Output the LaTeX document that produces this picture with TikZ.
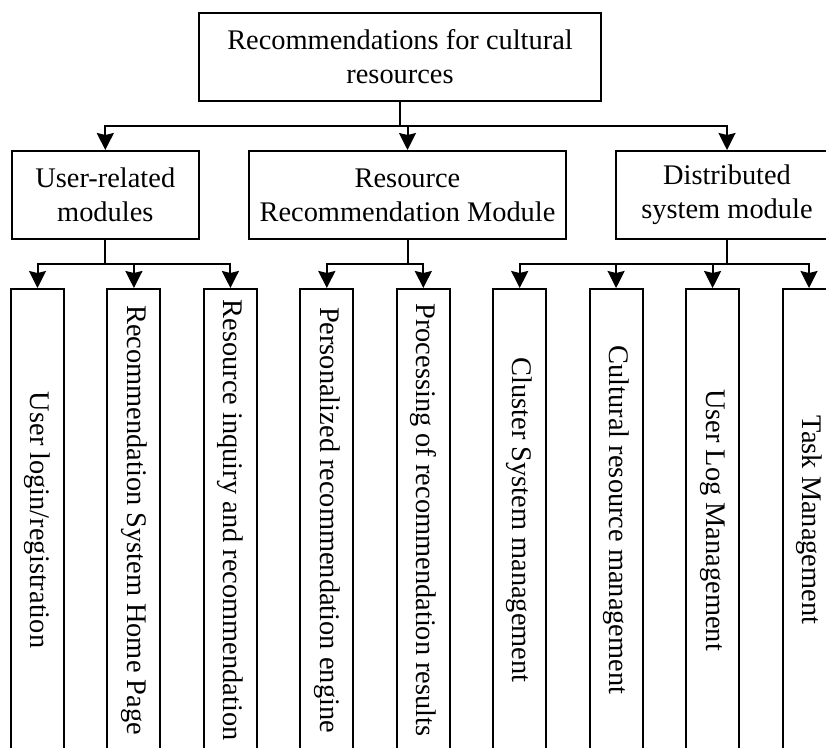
\documentclass[tikz,border=0pt]{standalone}
\usepackage{fontspec}
\setmainfont{Liberation Serif}
\usetikzlibrary{arrows.meta}

\begin{document}
\begin{tikzpicture}[x=1pt,y=-1pt,
	box/.style={draw,line width=2pt,inner sep=0pt,align=center,font=\fontsize{28.4}{34}\selectfont},
	leaf/.style={box,minimum width=53pt,minimum height=462pt},
	pfeil/.style={line width=2pt,-{Stealth[length=17pt,width=17pt,inset=2pt]}}]
	\clip (0,0) rectangle (826,747);
	% oberste Ebene
	\node [box,minimum width=401.6pt,minimum height=88pt] (root) at (400,56.7) {Recommendations for cultural\\resources};
	% Module
	\node [box,minimum width=187.6pt,minimum height=88pt] (m1) at (105.3,195) {User-related\\modules};
	\node [box,minimum width=317pt,minimum height=88pt] (m2) at (407.5,195) {Resource\\Recommendation Module};
	\node [box,minimum width=222pt,minimum height=88pt] (m3) at (727,195) {Distributed\\system module};
	% Funktionen
	\node [leaf] (l1) at (37.5,520) {\rotatebox{-90}{User login/registration}};
	\node [leaf] (l2) at (133.9,520) {\rotatebox{-90}{Recommendation System Home Page}};
	\node [leaf] (l3) at (230.4,520) {\rotatebox{-90}{Resource inquiry and recommendation}};
	\node [leaf] (l4) at (326.8,520) {\rotatebox{-90}{Personalized recommendation engine}};
	\node [leaf] (l5) at (423.3,520) {\rotatebox{-90}{Processing of recommendation results}};
	\node [leaf] (l6) at (519.7,520) {\rotatebox{-90}{Cluster System management}};
	\node [leaf] (l7) at (616.1,520) {\rotatebox{-90}{Cultural resource management}};
	\node [leaf] (l8) at (712.6,520) {\rotatebox{-90}{User Log Management}};
	\node [leaf] (l9) at (809,520) {\rotatebox{-90}{Task Management}};
	% Verbindungen
	\coordinate (bus0) at (0,126);
	\coordinate (bus1) at (0,264);
	\foreach \m in {m1,m2,m3}
		\draw [pfeil] (root.south) -- (root.south |- bus0) -| (\m.north);
	\foreach \i in {1,2,3}
		\draw [pfeil] (m1.south) -- (m1.south |- bus1) -| (l\i.north);
	\foreach \i in {4,5}
		\draw [pfeil] (m2.south) -- (m2.south |- bus1) -| (l\i.north);
	\foreach \i in {6,7,8,9}
		\draw [pfeil] (m3.south) -- (m3.south |- bus1) -| (l\i.north);
\end{tikzpicture}
\end{document}
